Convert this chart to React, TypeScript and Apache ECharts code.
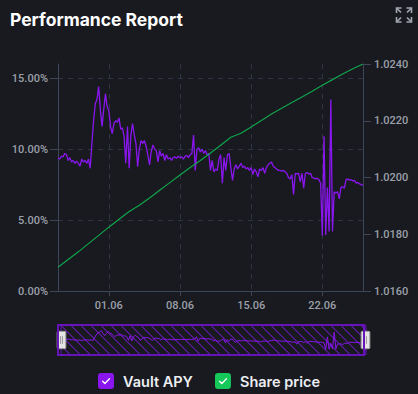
import React, { useEffect, useRef } from "react";
import * as echarts from "echarts";

// ---- data ----
const START_UTC = Date.UTC(2024, 4, 27, 0, 0); // 27.05, first sample
const STEP_HOURS = 4;
const X_TICK_LABELS = ["01.06", "08.06", "15.06", "22.06"];
const LEFT_TICKS = [0, 5, 10, 15];

// Vault APY (%), one sample every 4 hours
const VAULT_APY = [
  9.4, 9.3, 9.5, 9.45, 9.7, 9.6, 9.2, 9.4, 9.1, 9.2, 9.0, 9.15, 9.0, 8.8, 9.3, 9.1, 9.2, 9.0, 9.3, 8.65,
  10.4, 12.0, 13.2, 13.5, 14.4, 12.8, 11.6, 12.8, 13.9, 13.0, 12.7, 11.6, 11.1, 11.8, 12.0, 11.9, 12.2, 11.4, 11.5, 10.9,
  9.0, 11.6, 8.65, 11.0, 11.8, 11.0, 10.4, 8.76, 10.0, 10.6, 10.4, 10.6, 10.2, 9.6, 8.88, 9.8, 10.3, 10.0, 9.9, 9.1,
  9.9, 9.5, 9.7, 9.2, 9.6, 9.3, 9.4, 9.2, 9.4, 9.45, 9.35, 9.5, 9.4, 9.45, 9.3, 9.5, 9.55, 9.4, 9.6, 9.7,
  11.0, 8.5, 10.0, 10.1, 9.8, 10.0, 9.7, 9.9, 9.6, 9.7, 8.5, 9.2, 8.4, 8.6, 8.5, 9.3, 9.6, 7.6, 9.4, 8.5,
  9.6, 9.7, 8.7, 7.8, 8.6, 8.9, 8.6, 8.8, 9.0, 8.7, 8.8, 8.6, 8.7, 8.5, 8.7, 8.2, 8.6, 8.4, 8.05, 8.6,
  8.5, 8.7, 8.3, 8.7, 8.9, 9.0, 9.1, 8.8, 8.7, 8.6, 8.5, 8.5, 8.45, 8.5, 8.4, 8.3, 8.0, 7.9, 8.2, 6.8,
  8.3, 8.25, 8.3, 7.7, 8.3, 7.25, 8.3, 8.35, 8.25, 8.3, 8.0, 7.95, 7.9, 7.95, 7.85, 7.6, 3.9, 10.9, 3.95, 7.3,
  4.2, 13.5, 4.2, 7.0, 6.9, 7.0, 6.5, 7.3, 7.35, 7.25, 7.85, 7.9, 7.8, 7.85, 7.75, 7.8, 7.6, 7.65, 7.55, 7.5, 7.45,
];

// Share price, one value per day at 00:00 (27.05 .. 26.06)
const SHARE_PRICE = [
  1.01684, 1.01711, 1.01738, 1.01767, 1.01796, 1.01825, 1.01853, 1.0188, 1.01902, 1.01928,
  1.01955, 1.01982, 1.02009, 1.02035, 1.0206, 1.02086, 1.02114, 1.02142, 1.02156, 1.02178,
  1.02201, 1.02224, 1.02244, 1.02264, 1.02284, 1.02304, 1.02325, 1.02345, 1.02365, 1.02383, 1.024,
];

// ---- styles ----
const BG = "#181a20";
const PURPLE = "#8a16ef";
const GREEN = "#10a44c";
const AXIS_LINE = "#3d4558";
const GRID_LINE = "#2e3443";
const LABEL = "#9ca0a9";
const FONT = "Roboto";

const pad = (n: number) => String(n).padStart(2, "0");
const CATEGORIES = VAULT_APY.map((_, i) => {
  const d = new Date(START_UTC + i * STEP_HOURS * 3600e3);
  return `${pad(d.getUTCDate())}.${pad(d.getUTCMonth() + 1)} ${pad(d.getUTCHours())}:00`;
});
const isTickCat = (_: number, v: string) =>
  v.endsWith(" 00:00") && X_TICK_LABELS.includes(v.slice(0, 5));

let dayIdx = 0;
const SHARE_SERIES = CATEGORIES.map((c) =>
  c.endsWith(" 00:00") ? SHARE_PRICE[dayIdx++] ?? null : null
);

const checkIcon = (color: string) =>
  "image://data:image/svg+xml;charset=utf-8," +
  encodeURIComponent(
    `<svg xmlns="http://www.w3.org/2000/svg" width="16" height="16" viewBox="0 0 16 16"><rect width="16" height="16" rx="3" fill="${color}"/><path d="M4.6 8.2l2.3 2.3 4.6-4.7" fill="none" stroke="#ffffff" stroke-width="1.3" stroke-linecap="round" stroke-linejoin="round"/></svg>`
  );

function hatchCanvas() {
  const c = document.createElement("canvas");
  c.width = 10;
  c.height = 10;
  const ctx = c.getContext("2d")!;
  ctx.strokeStyle = PURPLE;
  ctx.lineWidth = 1;
  ctx.beginPath();
  ctx.moveTo(-1, 11);
  ctx.lineTo(11, -1);
  ctx.moveTo(-1, 1);
  ctx.lineTo(1, -1);
  ctx.moveTo(9, 11);
  ctx.lineTo(11, 9);
  ctx.stroke();
  return c;
}

export default function App() {
  const ref = useRef<HTMLDivElement>(null);
  useEffect(() => {
    if (!ref.current) return;
    const chart = echarts.init(ref.current, null, { renderer: "svg" });
    const iconStyle = { stroke: "#a3a7b0", lineWidth: 1.6, fill: null };
    const corner = (cx: number, cy: number, sx: number, sy: number) => [
      {
        type: "polyline",
        shape: { points: [[cx, cy + 5 * sy], [cx, cy], [cx + 5 * sx, cy]] },
        style: iconStyle,
      },
      {
        type: "line",
        shape: { x1: cx, y1: cy, x2: cx + 4.5 * sx, y2: cy + 4.5 * sy },
        style: iconStyle,
      },
    ];
    chart.setOption({
      animation: false,
      backgroundColor: BG,
      title: {
        text: "Performance Report",
        left: 5,
        top: 5,
        textStyle: { color: "#ffffff", fontSize: 17.5, fontWeight: 700, fontFamily: "Inter" },
      },
      graphic: [
        ...corner(396.5, 8, 1, 1),
        ...corner(411.5, 8, -1, 1),
        ...corner(396.5, 22, 1, -1),
        ...corner(411.5, 22, -1, -1),
        {
          type: "rect",
          z: 100,
          silent: true,
          shape: { x: 58, y: 325, width: 306, height: 30 },
          style: { fill: null, stroke: "#6414b8", lineWidth: 2 },
        },
      ],
      grid: { left: 58, right: 55, top: 64, bottom: 103 },
      legend: {
        top: 368,
        left: "center",
        itemWidth: 16,
        itemHeight: 16,
        itemGap: 22,
        textStyle: { color: "#eceef2", fontSize: 14.5, fontWeight: 600, fontFamily: "Inter", padding: [0, 0, 0, 4] },
        data: [
          { name: "Vault APY", icon: checkIcon(PURPLE) },
          { name: "Share price", icon: checkIcon("#14c95a") },
        ],
      },
      xAxis: {
        type: "category",
        boundaryGap: false,
        data: CATEGORIES,
        axisLine: { lineStyle: { color: AXIS_LINE } },
        axisTick: { interval: isTickCat, length: 5, lineStyle: { color: AXIS_LINE } },
        axisLabel: {
          interval: isTickCat,
          formatter: (v: string) => v.slice(0, 5),
          color: LABEL,
          fontSize: 11,
          fontWeight: 500,
          fontFamily: FONT,
          margin: 9,
        },
        splitLine: {
          show: true,
          interval: isTickCat,
          lineStyle: { color: GRID_LINE, type: [5, 5] },
        },
      },
      yAxis: [
        {
          type: "value",
          min: 0,
          max: 16,
          interval: 5,
          axisLine: { show: true, lineStyle: { color: AXIS_LINE } },
          axisTick: { show: true, length: 8, customValues: LEFT_TICKS, lineStyle: { color: AXIS_LINE } },
          axisLabel: {
            customValues: LEFT_TICKS,
            formatter: (v: number) => v.toFixed(2) + "%",
            color: LABEL,
            fontSize: 11,
            fontWeight: 500,
            fontFamily: FONT,
            margin: 10,
          },
          splitLine: {
            show: true,
            showMinLine: false,
            lineStyle: { color: GRID_LINE, type: [5, 5] },
          },
        },
        {
          type: "value",
          min: 1.016,
          max: 1.024,
          interval: 0.002,
          axisLine: { show: true, lineStyle: { color: AXIS_LINE } },
          axisTick: { show: true, length: 8, lineStyle: { color: AXIS_LINE } },
          axisLabel: {
            formatter: (v: number) => v.toFixed(4),
            color: LABEL,
            fontSize: 11,
            fontWeight: 500,
            fontFamily: FONT,
            margin: 11,
          },
          splitLine: { show: false },
        },
      ],
      dataZoom: [
        {
          type: "slider",
          xAxisIndex: 0,
          left: 58,
          right: 54,
          top: 325,
          height: 30,
          start: 0,
          end: 100,
          showDetail: false,
          brushSelect: false,
          moveHandleSize: 0,
          backgroundColor: "transparent",
          borderColor: "#6414b8",
          fillerColor: { image: hatchCanvas(), repeat: "repeat" } as any,
          showDataShadow: true,
          dataBackground: {
            lineStyle: { color: PURPLE, width: 1, opacity: 1 },
            areaStyle: { opacity: 0 },
          },
          selectedDataBackground: {
            lineStyle: { color: PURPLE, width: 1, opacity: 1 },
            areaStyle: { opacity: 0 },
          },
          handleIcon:
            "path://M1,0H8A1,1,0,0,1,9,1V17A1,1,0,0,1,8,18H1A1,1,0,0,1,0,17V1A1,1,0,0,1,1,0Z M3.5,5V13 M5.5,5V13",
          handleSize: "58%",
          handleStyle: { color: "#e4e4e4", borderColor: "#9a9a9a", borderWidth: 1 },
        },
      ],
      series: [
        {
          name: "Vault APY",
          type: "line",
          yAxisIndex: 0,
          data: VAULT_APY,
          showSymbol: false,
          lineStyle: { color: PURPLE, width: 1.3 },
          itemStyle: { color: PURPLE },
        },
        {
          name: "Share price",
          type: "line",
          yAxisIndex: 1,
          data: SHARE_SERIES,
          connectNulls: true,
          showSymbol: false,
          lineStyle: { color: GREEN, width: 1.2 },
          itemStyle: { color: GREEN },
        },
      ],
    });
    return () => chart.dispose();
  }, []);
  return (
    <div
      ref={ref}
      style={{ position: "fixed", left: 0, top: 0, width: 418, height: 394, background: BG }}
    />
  );
}
